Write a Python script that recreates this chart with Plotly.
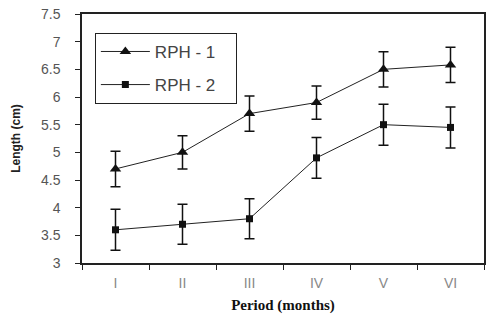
import plotly.graph_objects as go

periods = ["I", "II", "III", "IV", "V", "VI"]
rph1 = [4.7, 5.0, 5.7, 5.9, 6.5, 6.58]
rph1_err = [0.32, 0.30, 0.32, 0.30, 0.32, 0.32]
rph2 = [3.6, 3.7, 3.8, 4.9, 5.5, 5.45]
rph2_err = [0.37, 0.36, 0.36, 0.37, 0.37, 0.37]
pad = "<span style='color:white'>-x</span>"

fig = go.Figure()
fig.add_trace(go.Scatter(
    x=periods, y=rph1, name="RPH - 1" + pad, mode="lines+markers", legendgroup="a",
    line=dict(color="#222", width=1),
    marker=dict(symbol="triangle-up", size=10, color="#111"),
    error_y=dict(type="data", array=rph1_err, color="#111", thickness=1.5, width=5),
))
fig.add_trace(go.Scatter(
    x=periods, y=rph2, name="RPH - 2" + pad, mode="lines+markers", legendgroup="b",
    line=dict(color="#222", width=1),
    marker=dict(symbol="square", size=7, color="#111"),
    error_y=dict(type="data", array=rph2_err, color="#111", thickness=1.5, width=5),
))

fig.update_layout(
    width=486, height=318,
    margin=dict(l=82, r=2, t=14, b=55),
    paper_bgcolor="white", plot_bgcolor="white",
    font=dict(family="Liberation Sans, Arial", color="#444"),
    showlegend=True,
    legend=dict(
        x=0.032, y=0.924, xanchor="left", yanchor="top",
        bordercolor="#222", borderwidth=1, bgcolor="white",
        font=dict(size=17, color="#444"), tracegroupgap=8,
        itemwidth=49,
    ),
    xaxis=dict(
        type="category", range=[-0.5, 5.5], automargin=False,
        tickson="boundaries", ticks="outside", ticklen=5, tickcolor="#222",
        ticklabelstandoff=6,
        showline=True, linecolor="#222", linewidth=1.5, mirror=True,
        showgrid=False, tickfont=dict(size=14, color="#888"),
        title=dict(text="<b>Period (months)</b>",
                   font=dict(family="Liberation Serif, Times New Roman", size=15, color="#111"),
                   standoff=10),
    ),
    yaxis=dict(
        range=[3, 7.5], dtick=0.5, ticks="outside", ticklen=5, tickcolor="#222",
        automargin=False, ticklabelstandoff=12,
        showline=True, linecolor="#222", linewidth=1.5, mirror=True,
        showgrid=False, zeroline=False, tickfont=dict(size=14, color="#555"),
        title=dict(text="<b>Length (cm)</b>",
                   font=dict(family="Liberation Sans, Arial", size=12, color="#222"),
                   standoff=18),
    ),
)

fig.write_html("out.html", config={"displayModeBar": False},
               post_script="document.body.style.margin='0px';")
